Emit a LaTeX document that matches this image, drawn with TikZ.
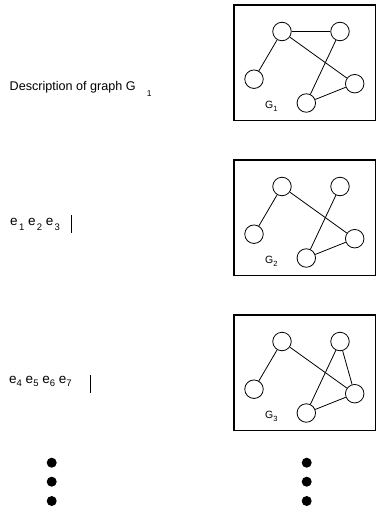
\documentclass[tikz,border=0pt]{standalone}
\usepackage{fontspec}
\setmainfont{Liberation Sans}
\usetikzlibrary{positioning}
\tikzset{
    vertex/.style={draw, circle, minimum size=18.5pt, inner sep=0pt, line width=0.8pt},
    graphbox/.style={draw, line width=1.6pt},
    edge/.style={line width=0.8pt},
    bigdot/.style={fill, circle, minimum size=10pt, inner sep=0pt},
    txt/.style={anchor=base west, inner sep=0pt},
}
\newcommand{\esub}[2][3pt]{e\raisebox{-#1}{\fontsize{9.5}{10}\selectfont #2}}

\begin{document}
\begin{tikzpicture}[x=1pt, y=-1pt]
    \useasboundingbox (0,0) rectangle (377,514);
    \foreach \i in {1,2,3} {
        \begin{scope}[shift={(0,{155*(\i-1)})}]
            \draw[graphbox] (234,5) rectangle (375.5,120.5);
            \node[vertex] (a\i) at (282,31.5) {};
            \node[vertex] (b\i) at (340,31.5) {};
            \node[vertex] (c\i) at (254,79.2) {};
            \node[vertex] (d\i) at (354.7,83.7) {};
            \node[vertex] (e\i) at (306.3,103) {};
            \node[txt, font=\fontsize{10.5}{12}\selectfont] (lbl\i) at (265,108.3)
                {G\raisebox{-3.4pt}{\fontsize{7.5}{8}\selectfont \i}};
            \draw[edge] (a\i) -- (c\i);
            \draw[edge] (a\i) -- (d\i);
            \draw[edge] (b\i) -- (e\i);
            \draw[edge] (e\i) -- (d\i);
        \end{scope}
    }
    \draw[edge] (a1) -- (b1);
    \draw[edge] (b3) -- (d3);

    % left column
    \node[txt, font=\fontsize{12.6}{14}\selectfont] (desc) at (9.5,90.7)
        {Description of graph G\hspace{11pt}\raisebox{-6pt}{\fontsize{8.5}{9}\selectfont 1}};
    \node[txt, font=\fontsize{13.5}{15}\selectfont] (row1) at (10,225)
        {\esub[5.5pt]{\kern1.3pt 1} \esub[5.5pt]{\kern1.3pt 2} \esub[5.5pt]{\kern1.3pt 3}};
    \node[txt, font=\fontsize{13.5}{15}\selectfont] (row2) at (9,383.5)
        {\esub{4} \esub{5} \esub{6} \esub{7}};
    \coordinate (bar1) at (71,215);
    \coordinate (bar2) at (90,375);
    \draw[line width=0.8pt] (bar1) -- ++(0,18);
    \draw[line width=0.8pt] (bar2) -- ++(0,18);

    \foreach \k/\y in {1/462.7, 2/481.7, 3/501} {
        \node[bigdot] (dl\k) at (51.7,\y) {};
        \node[bigdot] (dr\k) at (306.7,\y) {};
    }
\end{tikzpicture}
\end{document}
